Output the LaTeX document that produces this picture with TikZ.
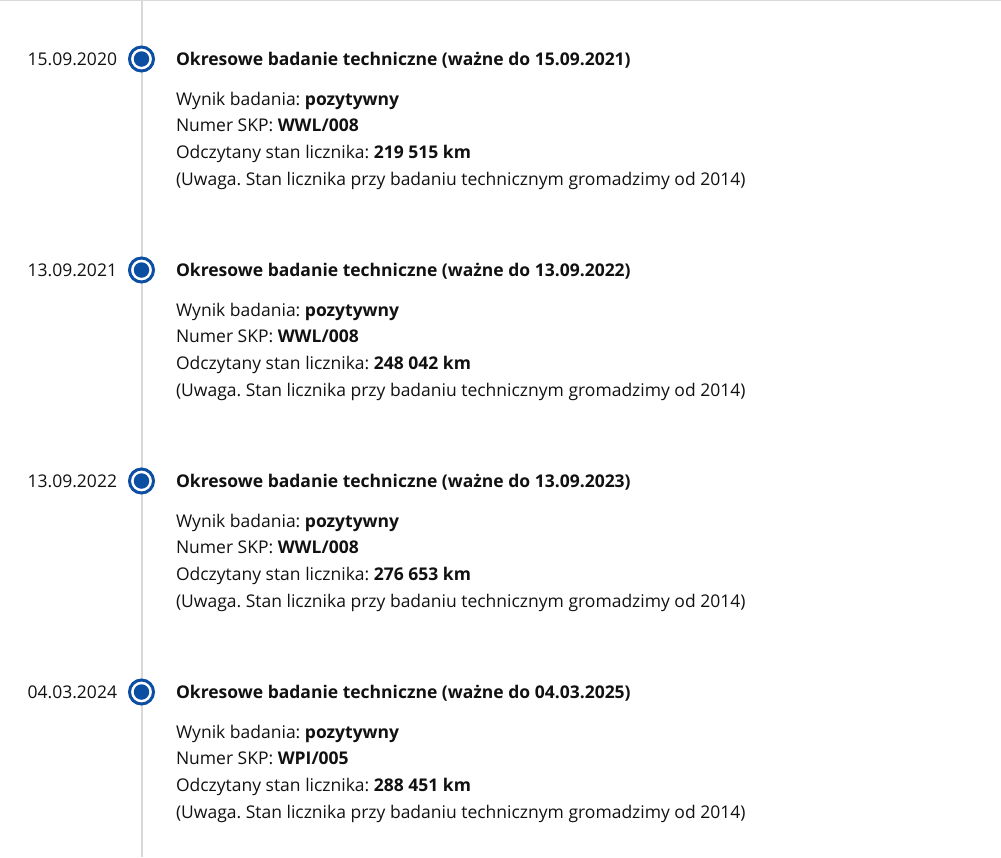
\documentclass[tikz,border=0pt]{standalone}
\usepackage{fontspec}
\setmainfont{Open Sans}
\usepackage{xcolor}
\usetikzlibrary{positioning}

\definecolor{govblue}{HTML}{0B4EA2}
\definecolor{linegrey}{HTML}{D9D9D9}
\definecolor{textblack}{HTML}{111111}
\frenchspacing

\begin{document}
\begin{tikzpicture}[x=1pt, y=-1pt,
    every node/.style={inner sep=0pt, outer sep=0pt, text=textblack, font=\fontsize{17.5}{20}\selectfont},
    datelbl/.style={anchor=base east},
    titlelbl/.style={anchor=base west, font=\fontsize{17.5}{20}\selectfont\bfseries},
    infolbl/.style={anchor=base west},
    ring/.style={circle, draw=govblue, line width=3pt, fill=white, minimum size=24pt},
    dot/.style={circle, fill=govblue, minimum size=15.5pt},
    timeline/.style={draw=linegrey, line width=2pt}]
\useasboundingbox[fill=white] (0,0) rectangle (1001,857);

% Top border and timeline
\coordinate (topleft) at (0,0.5);
\coordinate (topright) at (1001,0.5);
\coordinate (linetop) at (141.5,0);
\coordinate (linebottom) at (141.5,857);
\draw[draw=linegrey, line width=1.5pt] (topleft) -- (topright);
\draw[timeline] (linetop) -- (linebottom);

% Entry 1
\node[ring] (ring1) at (141.5,59) {};
\node[dot] (dot1) at (ring1.center) {};
\node[datelbl] (date1) at (117,65) {15.09.2020};
\node[titlelbl] (title1) at (176,65) {Okresowe badanie techniczne (ważne do 15.09.2021)};
\node[infolbl] (result1) at (176,105) {Wynik badania: \textbf{pozytywny}};
\node[infolbl] (skp1) at (176,131.5) {Numer SKP: \textbf{WWL/008}};
\node[infolbl] (odo1) at (176,158.5) {Odczytany stan licznika: \textbf{219 515 km}};
\node[infolbl] (note1) at (176,185.5) {(Uwaga. Stan licznika przy badaniu technicznym gromadzimy od 2014)};

% Entry 2
\node[ring] (ring2) at (141.5,270) {};
\node[dot] (dot2) at (ring2.center) {};
\node[datelbl] (date2) at (117,276) {13.09.2021};
\node[titlelbl] (title2) at (176,276) {Okresowe badanie techniczne (ważne do 13.09.2022)};
\node[infolbl] (result2) at (176,316) {Wynik badania: \textbf{pozytywny}};
\node[infolbl] (skp2) at (176,342.5) {Numer SKP: \textbf{WWL/008}};
\node[infolbl] (odo2) at (176,369.5) {Odczytany stan licznika: \textbf{248 042 km}};
\node[infolbl] (note2) at (176,396.5) {(Uwaga. Stan licznika przy badaniu technicznym gromadzimy od 2014)};

% Entry 3
\node[ring] (ring3) at (141.5,481) {};
\node[dot] (dot3) at (ring3.center) {};
\node[datelbl] (date3) at (117,487) {13.09.2022};
\node[titlelbl] (title3) at (176,487) {Okresowe badanie techniczne (ważne do 13.09.2023)};
\node[infolbl] (result3) at (176,527) {Wynik badania: \textbf{pozytywny}};
\node[infolbl] (skp3) at (176,553.5) {Numer SKP: \textbf{WWL/008}};
\node[infolbl] (odo3) at (176,580.5) {Odczytany stan licznika: \textbf{276 653 km}};
\node[infolbl] (note3) at (176,607.5) {(Uwaga. Stan licznika przy badaniu technicznym gromadzimy od 2014)};

% Entry 4
\node[ring] (ring4) at (141.5,692) {};
\node[dot] (dot4) at (ring4.center) {};
\node[datelbl] (date4) at (117,698) {04.03.2024};
\node[titlelbl] (title4) at (176,698) {Okresowe badanie techniczne (ważne do 04.03.2025)};
\node[infolbl] (result4) at (176,738) {Wynik badania: \textbf{pozytywny}};
\node[infolbl] (skp4) at (176,764.5) {Numer SKP: \textbf{WPI/005}};
\node[infolbl] (odo4) at (176,791.5) {Odczytany stan licznika: \textbf{288 451 km}};
\node[infolbl] (note4) at (176,818.5) {(Uwaga. Stan licznika przy badaniu technicznym gromadzimy od 2014)};

\end{tikzpicture}
\end{document}
